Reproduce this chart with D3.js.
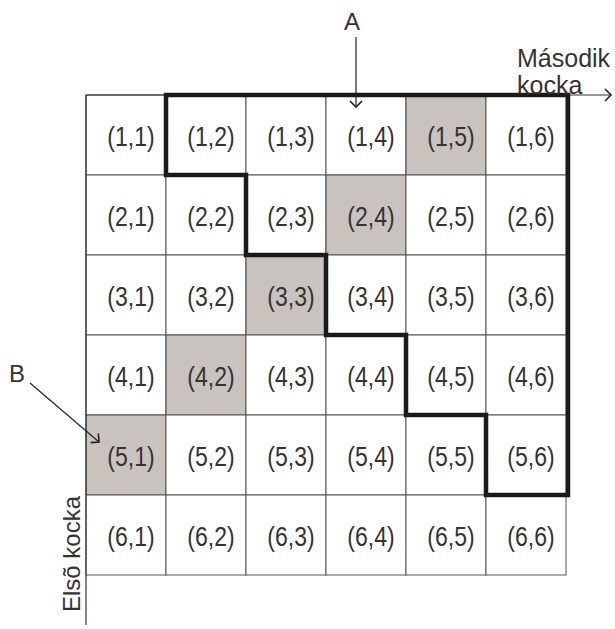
<!DOCTYPE html>
<html>
<head>
<meta charset="utf-8">
<script src="https://cdn.jsdelivr.net/npm/d3@7"></script>
<style>
  body { margin: 0; background: #fff; }
  text { font-family: "Liberation Sans", Arial, Helvetica, sans-serif; fill: #333; }
</style>
</head>
<body>
<svg id="chart"></svg>
<script>
// first die (rows) and second die (columns)
const firstDie = [1, 2, 3, 4, 5, 6];
const secondDie = [1, 2, 3, 4, 5, 6];
// outcomes whose sum is 6 are shaded
const shadedSum = 6;
const rowLabel = "Elsõ kocka";
const colLabel = ["Második", "kocka"];
const markA = "A";
const markB = "B";

const width = 615, height = 629;
const svg = d3.select("#chart").attr("width", width).attr("height", height);

const x = d3.scaleBand().domain(secondDie).range([86, 566]);
const y = d3.scaleBand().domain(firstDie).range([95, 575]);
const bw = x.bandwidth(), bh = y.bandwidth();

svg.append("defs").append("marker")
    .attr("id", "head")
    .attr("viewBox", "-8 -8 10 16")
    .attr("markerWidth", 10).attr("markerHeight", 16)
    .attr("markerUnits", "userSpaceOnUse")
    .attr("orient", "auto")
    .append("path")
    .attr("d", "M-6,-6L0,0L-6,6")
    .attr("fill", "none").attr("stroke", "#222").attr("stroke-width", 1.6);

let cells = [];
firstDie.forEach(function (i) {
    secondDie.forEach(function (j) { cells.push({i: i, j: j}); });
});

// cells
svg.selectAll(".cell").data(cells).enter()
    .append("rect").attr("class", "cell")
    .attr("x", d => x(d.j)).attr("y", d => y(d.i))
    .attr("width", bw).attr("height", bh)
    .attr("fill", d => d.i + d.j === shadedSum ? "#c9c3bf" : "#fff")
    .attr("stroke", d => d.i + d.j === shadedSum ? "#444" : "#555")
    .attr("stroke-width", 1);

// axes lines
svg.append("line")
    .attr("x1", x.range()[0]).attr("y1", y.range()[0])
    .attr("x2", x.range()[0]).attr("y2", 625)
    .attr("stroke", "#333").attr("stroke-width", 1.2);
svg.append("line")
    .attr("x1", x.range()[0]).attr("y1", y.range()[0])
    .attr("x2", 611).attr("y2", y.range()[0])
    .attr("stroke", "#333").attr("stroke-width", 1.2)
    .attr("marker-end", "url(#head)");

// outcome labels
svg.selectAll(".lbl").data(cells).enter()
    .append("text").attr("class", "lbl")
    .attr("text-anchor", "middle")
    .attr("font-size", 23)
    .attr("transform", d => "translate(" + (x(d.j) + bw / 2 + 5) + "," + (y(d.i) + bh / 2 + 11) + ") scale(1,1.18)")
    .text(d => "(" + d.i + "," + d.j + ")");

// thick staircase boundary around outcomes with second > first
let pts = [];
for (let r = firstDie.length - 1; r >= 1; r--) {
    pts.push([x(r + 1), y(r) + bh]);
    pts.push([x(r + 1), y(r)]);
}
pts.push([x.range()[1] + 2, y(1)]);
pts.push([x.range()[1] + 2, y(firstDie.length - 1) + bh]);
svg.append("path")
    .attr("d", d3.line().curve(d3.curveLinearClosed)(pts))
    .attr("fill", "none").attr("stroke", "#1a1a1a")
    .attr("stroke-width", 4.5).attr("stroke-linejoin", "miter");

// axis titles
svg.append("text")
    .attr("font-size", 24)
    .attr("transform", "translate(80,612) rotate(-90)")
    .text(rowLabel);
svg.selectAll(".ct").data(colLabel).enter()
    .append("text").attr("class", "ct")
    .attr("font-size", 25)
    .attr("x", 517).attr("y", (d, k) => 67 + k * 27)
    .text(d => d);

// annotation A
svg.append("text").attr("font-size", 24).attr("text-anchor", "middle")
    .attr("x", 352).attr("y", 30).text(markA);
svg.append("line")
    .attr("x1", 356).attr("y1", 37).attr("x2", 356).attr("y2", 107)
    .attr("stroke", "#222").attr("stroke-width", 1.2)
    .attr("marker-end", "url(#head)");

// annotation B
svg.append("text").attr("font-size", 24).attr("text-anchor", "middle")
    .attr("x", 17).attr("y", 382).text(markB);
svg.append("line")
    .attr("x1", 30).attr("y1", 383).attr("x2", 99).attr("y2", 442)
    .attr("stroke", "#222").attr("stroke-width", 1.2)
    .attr("marker-end", "url(#head)");
</script>
</body>
</html>
